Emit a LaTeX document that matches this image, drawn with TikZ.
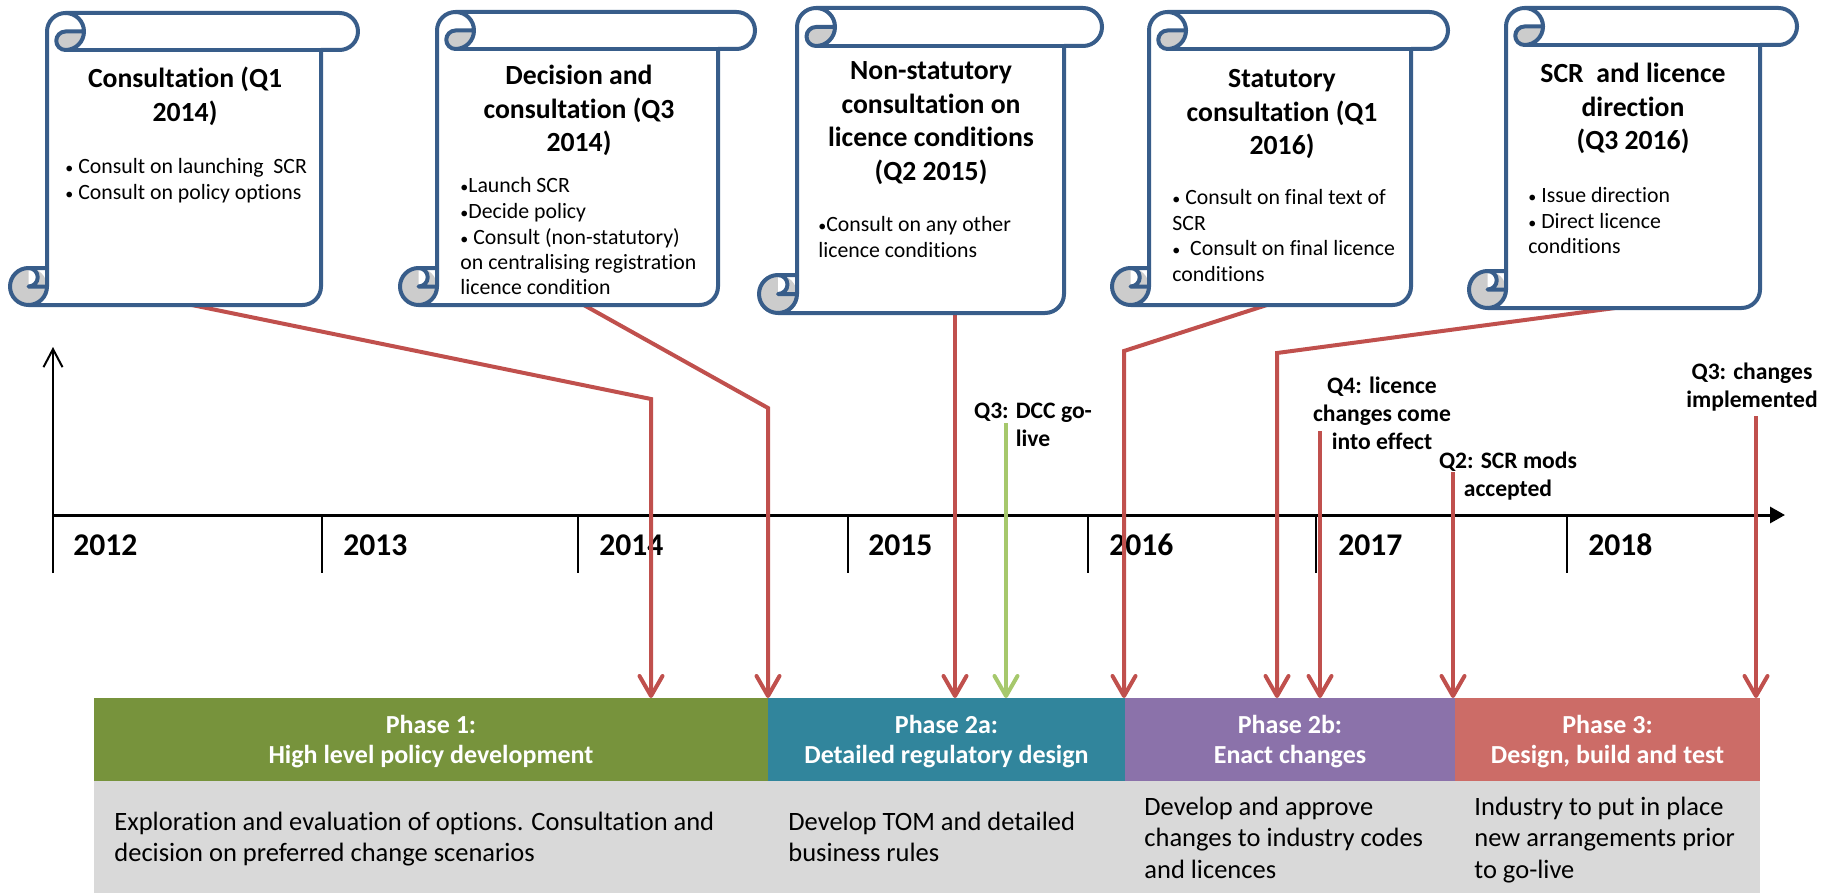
\documentclass[tikz,border=0pt]{standalone}
\usepackage{fontspec}
\setmainfont{Carlito}[Ligatures=NoCommon]
\usetikzlibrary{arrows.meta}
\definecolor{scrollblue}{RGB}{56,93,138}
\definecolor{curlgray}{RGB}{204,204,204}
\definecolor{redln}{RGB}{192,80,77}
\definecolor{greenln}{RGB}{166,200,108}
\definecolor{pone}{RGB}{119,147,60}
\definecolor{ptwoa}{RGB}{49,133,156}
\definecolor{ptwob}{RGB}{139,114,170}
\definecolor{pthree}{RGB}{204,108,103}
\definecolor{descgray}{RGB}{217,217,217}

\newcommand\ctrlines[1]{\vtop{\halign{\hfil##\hfil\cr#1\crcr}}}
\newcommand\lftlines[1]{\vtop{\halign{##\hfil\cr#1\crcr}}}
\newcommand\bul{{\fontsize{8}{8}\selectfont •}}

\tikzset{
  scrollline/.style={draw=scrollblue, line width=2pt, line join=round},
  scrolltitle/.style={font=\fontsize{13.85}{16.75}\selectfont\bfseries, inner sep=0pt, anchor=base},
  bullets/.style={font=\fontsize{10.9}{12.75}\selectfont, inner sep=0pt, anchor=base west},
  yearlbl/.style={font=\fontsize{15.8}{19}\selectfont\bfseries, inner sep=0pt, anchor=base west},
  evlabel/.style={font=\fontsize{11.8}{14.1}\selectfont\bfseries, inner sep=0pt, anchor=base},
  phasebox/.style={inner sep=0pt, outer sep=0pt, minimum height=41.5pt, draw=none},
  phasetext/.style={font=\fontsize{13}{15}\selectfont\bfseries, text=white, inner sep=0pt, anchor=base},
  desc/.style={font=\fontsize{13.25}{15.75}\selectfont, inner sep=0pt, anchor=base west},
  conn/.style={draw=redln, line width=2pt, -{Straight Barb[length=10pt,width=11.5pt,round]}},
  gconn/.style={conn, draw=greenln},
  tick/.style={draw=black, line width=1pt},
}

% #1=L #2=T #3=R #4=B #5=roll diameter
\newcommand\drawscroll[5]{%
  \pgfmathsetmacro\SXa{#1+#5}%
  \pgfmathsetmacro\SXb{#1+1.5*#5}%
  \pgfmathsetmacro\SXc{#1+2*#5}%
  \pgfmathsetmacro\SXd{#3-#5}%
  \pgfmathsetmacro\SXe{#3-0.5*#5}%
  \pgfmathsetmacro\SXf{#1+0.5*#5}%
  \pgfmathsetmacro\SYa{#2+0.5*#5}%
  \pgfmathsetmacro\SYb{#2+#5}%
  \pgfmathsetmacro\SYc{#4-#5}%
  \pgfmathsetmacro\SYd{#4-0.5*#5}%
  \pgfmathsetmacro\SR{0.5*#5}%
  \pgfmathsetmacro\SQ{0.25*#5}%
  \fill[white] (\SXa,\SYc) -- (\SXa,\SYa) arc[start angle=180,end angle=270,radius=\SR]
    -- (\SXe,#2) arc[start angle=270,end angle=450,radius=\SR] -- (\SXd,\SYb) -- (\SXd,\SYd)
    arc[start angle=0,end angle=90,radius=\SR] -- (\SXf,#4) arc[start angle=90,end angle=270,radius=\SR] -- cycle;
  \fill[curlgray] (\SXf,\SYd) circle[radius=\SR];
  \fill[white] (\SXf,\SYc) arc[start angle=270,end angle=450,radius=\SQ] -- cycle;
  \fill[curlgray] (\SXc,\SYa) arc[start angle=0,end angle=90,radius=\SR] arc[start angle=90,end angle=270,radius=\SQ] -- cycle;
  \draw[scrollline] (\SXa,\SYc) -- (\SXa,\SYa) arc[start angle=180,end angle=270,radius=\SR]
    -- (\SXe,#2) arc[start angle=270,end angle=450,radius=\SR] -- (\SXd,\SYb) -- (\SXd,\SYd)
    arc[start angle=0,end angle=90,radius=\SR] -- (\SXf,#4) arc[start angle=90,end angle=270,radius=\SR] -- cycle;
  \draw[scrollline] (\SXb,#2) arc[start angle=270,end angle=450,radius=\SR] arc[start angle=90,end angle=270,radius=\SQ] -- (\SXc,\SYa);
  \draw[scrollline] (\SXd,\SYb) -- (\SXb,\SYb);
  \draw[scrollline] (\SXf,\SYc) arc[start angle=270,end angle=450,radius=\SQ] -- (\SXa,\SYd);
  \draw[scrollline] (\SXf,#4) arc[start angle=90,end angle=0,radius=\SR] -- (\SXa,\SYc);
}

\begin{document}
\begin{tikzpicture}[x=0.5pt,y=-0.5pt]
\useasboundingbox (0,0) rectangle (1835,893);

% ---------- phases ----------
\node[phasebox, fill=pone,   minimum width=337pt]   (p1)  at (431,739.5) {};
\node[phasebox, fill=ptwoa,  minimum width=178.5pt] (p2a) at (946.5,739.5) {};
\node[phasebox, fill=ptwob,  minimum width=165pt]   (p2b) at (1290,739.5) {};
\node[phasebox, fill=pthree, minimum width=152.5pt] (p3)  at (1607.5,739.5) {};
\node[fill=descgray, inner sep=0pt, outer sep=0pt, minimum width=833pt, minimum height=56pt] (dbg) at (927,837) {};

\node[phasetext] (p1t)  at (431,733)    {\ctrlines{Phase 1:\cr High level policy development}};
\node[phasetext] (p2at) at (946.5,733)  {\ctrlines{Phase 2a:\cr Detailed regulatory design}};
\node[phasetext] (p2bt) at (1290,733)   {\ctrlines{Phase 2b:\cr Enact changes}};
\node[phasetext] (p3t)  at (1607.5,733) {\ctrlines{Phase 3:\cr Design, build and test}};

\node[desc] (d1)  at (114,830)  {\lftlines{Exploration and evaluation of options. Consultation and\cr decision on preferred change scenarios}};
\node[desc] (d2a) at (788,830)  {\lftlines{Develop TOM and detailed\cr business rules}};
\node[desc] (d2b) at (1144,815) {\lftlines{Develop and approve\cr changes to industry codes\cr and licences}};
\node[desc] (d3)  at (1474,815) {\lftlines{Industry to put in place\cr new arrangements prior\cr to go-live}};

% ---------- axes ----------
\coordinate (O) at (53,515);
\coordinate (vbot) at (53,573);
\coordinate (vtop) at (53,347);
\coordinate (hend) at (1785,515);
\draw[line width=1pt, -{Straight Barb[length=9pt,width=9.5pt]}] (vbot) -- (vtop);
\draw[line width=1.5pt, -{Triangle[length=7.5pt,width=8pt]}] (O) -- (hend);
\foreach \tx [count=\i] in {322,578,848,1088,1316,1567}{
  \coordinate (tk\i) at (\tx,515);
  \draw[tick] (tk\i) -- ++(0,58);
}
\node[yearlbl] (y12) at (73,555)   {2012};
\node[yearlbl] (y13) at (343,555)  {2013};
\node[yearlbl] (y14) at (599,555)  {2014};
\node[yearlbl] (y15) at (868,555)  {2015};
\node[yearlbl] (y16) at (1109,555) {2016};
\node[yearlbl] (y17) at (1338,555) {2017};
\node[yearlbl] (y18) at (1588,555) {2018};

% ---------- event labels ----------
\node[evlabel] (ev1) at (1033,418) {\ctrlines{Q3: DCC go-\cr live}};
\node[evlabel] (ev2) at (1382,393) {\ctrlines{Q4: licence\cr changes come\cr into effect}};
\node[evlabel] (ev3) at (1508,468) {\ctrlines{Q2: SCR mods\cr accepted}};
\node[evlabel] (ev4) at (1752,379) {\ctrlines{Q3: changes\cr implemented}};

\coordinate (e1) at (1006,423);
\coordinate (e2) at (1320,431);
\coordinate (e3) at (1453,472);
\coordinate (e4) at (1756,416);
\draw[gconn] (e1) -- (e1 |- p2a.north);
\draw[conn] (e2) -- (e2 |- p2b.north);
\draw[conn] (e3) -- (e3 |- p3.north);
\draw[conn] (e4) -- (e4 |- p3.north);

% ---------- scroll connectors ----------
\coordinate (s1o) at (187,304);  \coordinate (k1) at (651,399);
\coordinate (s2o) at (582,304);  \coordinate (k2) at (768,408);
\coordinate (s3o) at (955,310);
\coordinate (s4o) at (1270,304); \coordinate (k4) at (1124,351);
\coordinate (s5o) at (1630,306); \coordinate (k5) at (1277,353);
\draw[conn] (s1o) -- (k1) -- (k1 |- p1.north);
\draw[conn] (s2o) -- (k2) -- (k2 |- p1.north);
\draw[conn] (s3o) -- (s3o |- p2a.north);
\draw[conn] (s4o) -- (k4) -- (k4 |- p2b.north);
\draw[conn] (s5o) -- (k5) -- (k5 |- p2b.north);

% ---------- scrolls ----------
\drawscroll{10}{13}{358}{305}{37}
\drawscroll{400}{12}{755}{305}{37}
\drawscroll{759}{8}{1102}{313}{38}
\drawscroll{1112}{12}{1448}{305}{37}
\drawscroll{1469}{8}{1797}{308}{37}

\node[scrolltitle] (t1) at (185,88)  {\ctrlines{Consultation (Q1\cr 2014)}};
\node[bullets]     (b1) at (65,174)  {\lftlines{\bul\ Consult on launching~ SCR\cr \bul\ Consult on policy options}};

\node[scrolltitle] (t2) at (579,85)  {\ctrlines{Decision and\cr consultation (Q3\cr 2014)}};
\node[bullets]     (b2) at (460,193) {\lftlines{\bul Launch SCR\cr \bul Decide policy\cr \bul\ Consult (non-statutory)\cr on centralising registration\cr licence condition}};

\node[scrolltitle] (t3) at (931,80)  {\ctrlines{Non-statutory\cr consultation on\cr licence conditions\cr (Q2 2015)}};
\node[bullets]     (b3) at (818,232) {\lftlines{\bul Consult on any other\cr licence conditions}};

\node[scrolltitle] (t4) at (1282,88) {\ctrlines{Statutory\cr consultation (Q1\cr 2016)}};
\node[bullets]     (b4) at (1172,205) {\lftlines{\bul\ Consult on final text of\cr SCR\cr \bul~ Consult on final licence\cr conditions}};

\node[scrolltitle] (t5) at (1633,83) {\ctrlines{SCR~ and licence\cr direction\cr (Q3 2016)}};
\node[bullets]     (b5) at (1528,203) {\lftlines{\bul\ Issue direction\cr \bul\ Direct licence\cr conditions}};
\end{tikzpicture}
\end{document}
